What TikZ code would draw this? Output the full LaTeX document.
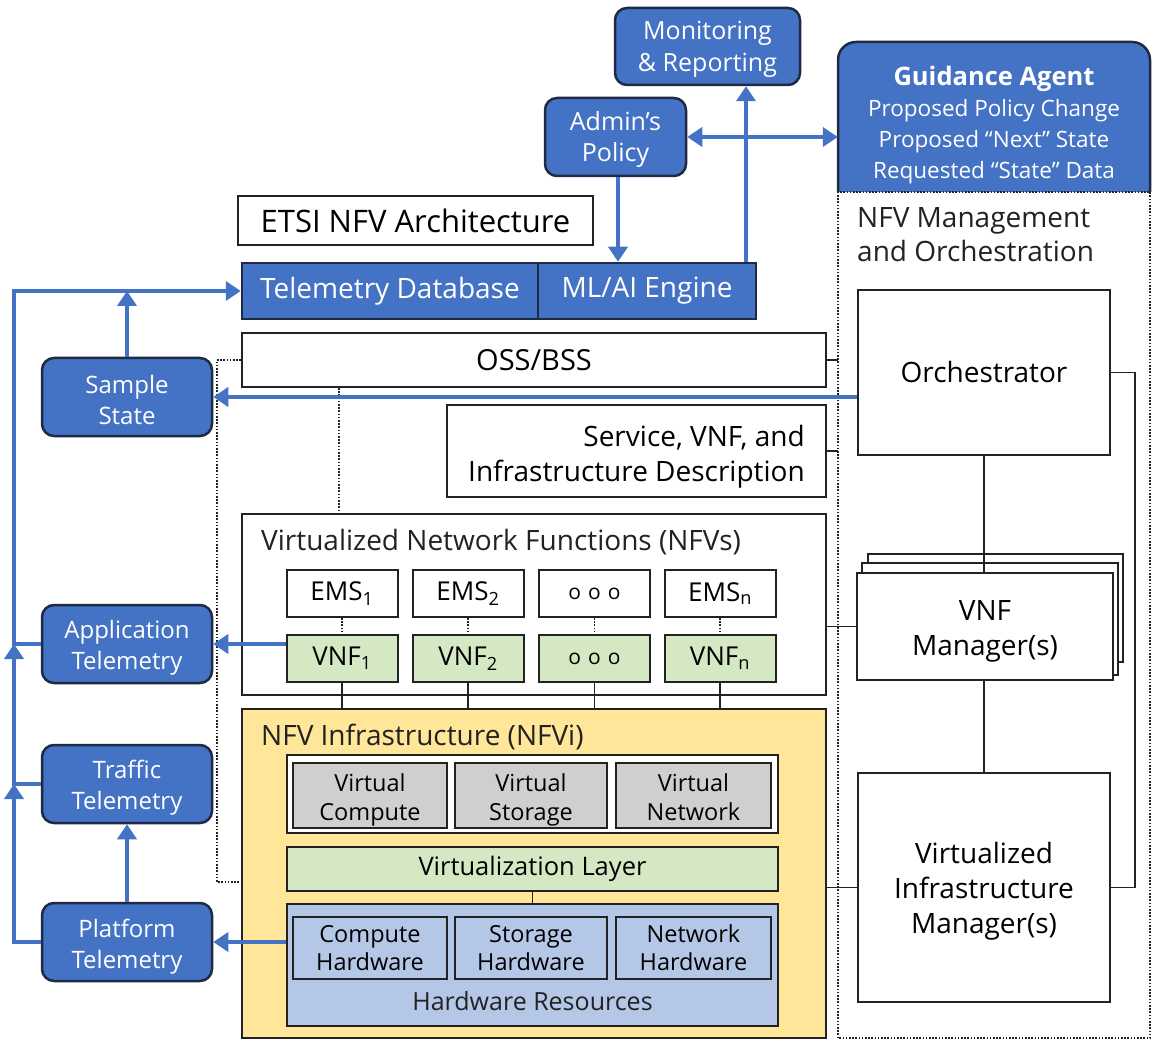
\documentclass[tikz,border=0pt]{standalone}
\usepackage{fontspec}
\setmainfont{Open Sans}
\usetikzlibrary{arrows.meta,calc}
\definecolor{boxblue}{HTML}{4472C4}
\definecolor{navy}{HTML}{1F2A44}
\definecolor{arrblue}{HTML}{4472C4}
\definecolor{nfviyellow}{HTML}{FFE699}
\definecolor{vgreen}{HTML}{D5E8C4}
\definecolor{vgray}{HTML}{D0CECE}
\definecolor{hwblue}{HTML}{B4C7E7}
\definecolor{lineblack}{HTML}{222222}
\newcommand\myfs[2]{\fontsize{#1}{#2}\selectfont}
\newcommand\uprule[1]{\rule{0pt}{#1}}
\newcommand\dnrule[1]{\rule[-#1]{0pt}{0pt}}
\begin{document}
\begin{tikzpicture}[x=1pt,y=-1pt,
  bbox/.style={draw=navy, line width=2.5pt, fill=boxblue, rounded corners=12pt, text=white, align=center, inner sep=0pt, font=\myfs{24}{31}},
  sqblue/.style={draw=navy, line width=2.5pt, fill=boxblue, text=white, inner sep=0pt, font=\myfs{28}{34}},
  wbox/.style={draw=lineblack, line width=2pt, fill=white, inner sep=0pt, font=\myfs{28}{35}, align=center},
  emsbox/.style={wbox, minimum width=111pt, minimum height=47pt, font=\myfs{26}{30}},
  vnfbox/.style={emsbox, fill=vgreen},
  graybox/.style={draw=lineblack, line width=2pt, fill=vgray, inner sep=0pt, minimum height=64pt, font=\myfs{23.5}{29}, align=center},
  hwbox/.style={draw=lineblack, line width=2pt, fill=hwblue, inner sep=0pt, minimum height=62pt, font=\myfs{23.5}{28}, align=center},
  arr/.style={draw=arrblue, line width=4.5pt, -{Triangle[length=15pt,width=19pt]}},
  darr/.style={draw=arrblue, line width=4.5pt, {Triangle[length=15pt,width=19pt]}-{Triangle[length=15pt,width=19pt]}},
  bline/.style={draw=lineblack, line width=1.8pt},
  dotl/.style={draw=lineblack, line width=1.8pt, dash pattern=on 1.6pt off 1.6pt},
  plain/.style={inner sep=0pt, font=\myfs{28}{34}, text=lineblack},
  ooo/.style={font=\myfs{21}{24}}
]
\useasboundingbox[fill=white] (0,0) rectangle (1159,1040);

% ---- top blue boxes ----
\node[bbox, font=\myfs{25}{32}, minimum width=185pt, minimum height=77pt] (mon) at (707.5,46.5) {\uprule{25pt}Monitoring\\\& Reporting};
\node[bbox, font=\myfs{25}{31}, minimum width=141pt, minimum height=78pt] (admin) at (615.5,137) {\uprule{25pt}Admin's\\Policy};

\fill[boxblue] (838,192) -- (838,60) arc(180:270:18) -- (1132,42) arc(270:360:18) -- (1150,192) -- cycle;
\draw[navy, line width=2.5pt] (838,192) -- (838,60) arc(180:270:18) -- (1132,42) arc(270:360:18) -- (1150,192);
\node[inner sep=0pt, minimum width=312pt, minimum height=150pt, text=white, align=center, font=\myfs{22.5}{31}] (guid) at (994,125)
  {{\myfs{25.5}{31}\bfseries Guidance Agent}\\Proposed Policy Change\\Proposed “Next” State\\Requested “State” Data};

% ---- ETSI column ----
\node[wbox, font=\myfs{31}{34}, minimum width=355pt, minimum height=49pt] (etsi) at (415.5,220.5) {ETSI NFV Architecture};
\node[sqblue, minimum width=296pt, minimum height=56pt] (teldb) at (390,291) {Telemetry Database};
\node[sqblue, minimum width=218pt, minimum height=56pt] (mlai) at (647,291) {ML/AI Engine};
\node[wbox, font=\myfs{29}{34}, minimum width=584pt, minimum height=54pt] (oss) at (534,360) {OSS/BSS};
\node[wbox, minimum width=379pt, minimum height=92pt, align=right] (svc) at (636.5,451) {\uprule{32pt}Service, VNF, and\\Infrastructure Description};

% VNF block
\node[wbox, minimum width=584pt, minimum height=181pt] (vnfs) at (534,604.5) {};
\node[plain, anchor=west] (vnfstitle) at (261,542) {Virtualized Network Functions (NFVs)};
\node[emsbox] (ems1) at (342,593.5) {EMS\textsubscript{1}};
\node[emsbox] (ems2) at (468,593.5) {EMS\textsubscript{2}};
\node[emsbox, ooo] (ems3) at (594.5,593.5) {o\hspace{7pt}o\hspace{7pt}o};
\node[emsbox] (ems4) at (720,593.5) {EMS\textsubscript{n}};
\node[vnfbox] (vnf1) at (342,658.5) {VNF\textsubscript{1}};
\node[vnfbox] (vnf2) at (468,658.5) {VNF\textsubscript{2}};
\node[vnfbox, ooo] (vnf3) at (594.5,658.5) {o\hspace{7pt}o\hspace{7pt}o};
\node[vnfbox] (vnf4) at (720,658.5) {VNF\textsubscript{n}};
\foreach \i in {1,2,3,4}{
  \draw[dotl] (ems\i.south) -- (vnf\i.north);
}

% NFVi block
\node[wbox, fill=nfviyellow, minimum width=584pt, minimum height=329pt] (nfvi) at (534,873.5) {};
\node[plain, anchor=west] (nfvititle) at (261,737) {NFV Infrastructure (NFVi)};
\foreach \i in {1,2,3,4}{
  \draw[bline] (vnf\i.south) -- (vnf\i.south |- nfvi.north);
}
\node[wbox, minimum width=491pt, minimum height=78pt] (virt) at (532.5,794) {};
\node[graybox, minimum width=154pt] (vc) at (370,795) {\uprule{29pt}Virtual\\Compute\dnrule{7pt}};
\node[graybox, minimum width=152pt] (vs) at (531,795) {\uprule{29pt}Virtual\\Storage\dnrule{7pt}};
\node[graybox, minimum width=155pt] (vn) at (693.5,795) {\uprule{29pt}Virtual\\Network\dnrule{7pt}};
\node[wbox, fill=vgreen, minimum width=491pt, minimum height=44pt, font=\myfs{25.5}{30}] (vlayer) at (532.5,869) {Virtualization Layer};
\node[wbox, fill=hwblue, minimum width=491pt, minimum height=122pt] (hw) at (532.5,965) {};
\node[plain, font=\myfs{25}{30}] (hwtitle) at (532.5,1001) {Hardware Resources};
\node[hwbox, minimum width=154pt] (hc) at (370,948) {Compute\\Hardware};
\node[hwbox, minimum width=152pt] (hs) at (531,948) {Storage\\Hardware};
\node[hwbox, minimum width=155pt] (hn) at (693.5,948) {Network\\Hardware};
\draw[bline] (vlayer.south) -- (hw.north);

% ---- left telemetry boxes ----
\node[bbox, minimum width=170pt, minimum height=78pt] (sample) at (127,397) {\uprule{24pt}Sample\\State};
\node[bbox, minimum width=170pt, minimum height=78pt] (app) at (127,644) {\uprule{26pt}Application\\Telemetry};
\node[bbox, minimum width=170pt, minimum height=78pt] (traffic) at (127,784) {\uprule{26pt}Traffic\\Telemetry};
\node[bbox, minimum width=170pt, minimum height=78pt] (platform) at (127,942) {\uprule{28pt}Platform\\Telemetry};

% ---- MANO ----
\node[draw=none, minimum width=312pt, minimum height=846pt, inner sep=0pt] (mano) at (994,615) {};
\draw[dotl] (mano.north west) rectangle (mano.south east);
\node[plain, anchor=north west, align=left, font=\myfs{28}{34}] (manotitle) at (857,207) {NFV Management\\and Orchestration};
\node[wbox, minimum width=252pt, minimum height=165pt] (orch) at (984,372.5) {Orchestrator};
\node[wbox, minimum width=255pt, minimum height=108pt] (vnfmc) at (995.5,608) {};
\node[wbox, minimum width=256pt, minimum height=112pt] (vnfmb) at (990,619) {};
\node[wbox, minimum width=256pt, minimum height=107pt] (vnfm) at (985,626.5) {\uprule{29pt}VNF\\Manager(s)};
\node[wbox, minimum width=252pt, minimum height=229pt] (vim) at (984,887.5) {\uprule{28pt}Virtualized\\Infrastructure\\Manager(s)};

% MANO connectors
\draw[bline] (orch.south) -- (orch.south |- vnfm.north);
\draw[bline] (vnfm.south -| orch.south) -- (vim.north);
\draw[bline] (orch.east) -- ++(24,0) |- (vim.east);
\draw[bline] (oss.east) -- (oss.east -| mano.west);
\draw[bline] (svc.east) -- (svc.east -| mano.west);
\draw[bline] (vnfs.east |- vnfm.west) -- (vnfm.west);
\draw[bline] (nfvi.east |- vim.west) -- (vim.west);

% dotted ETSI links
\draw[dotl] (oss.west) -- ++(-24,0) |- ($(nfvi.north west)+(0,174)$);
\draw[dotl] ($(oss.south west)+(98,0)$) -- ($(vnfs.north west)+(98,0)$);

% ---- blue arrows ----
\draw[darr] (admin.east) -- (admin.east -| guid.west);
\draw[arr] ($(mlai.north)+(99,0)$) -- ($(mon.south)+(38.5,0)$);
\draw[arr] ($(admin.south)+(2.5,0)$) -- ($(mlai.north)+(-29,0)$);
\draw[arr] (platform.west) -- (14,942) -- (14,784);
\draw[arr] (traffic.west) -- (14,784) -- (14,644);
\draw[arr] (app.west) -- (14,644) -- (14,291) -- (teldb.west);
\draw[arr] (sample.north) -- (sample.north |- teldb.west);
\draw[arr] (orch.west |- sample.east) -- (sample.east);
\draw[arr] (vnf1.west |- app.east) -- (app.east);
\draw[arr] (hw.west |- platform.east) -- (platform.east);
\draw[arr] (platform.north) -- (traffic.south);
\end{tikzpicture}
\end{document}
